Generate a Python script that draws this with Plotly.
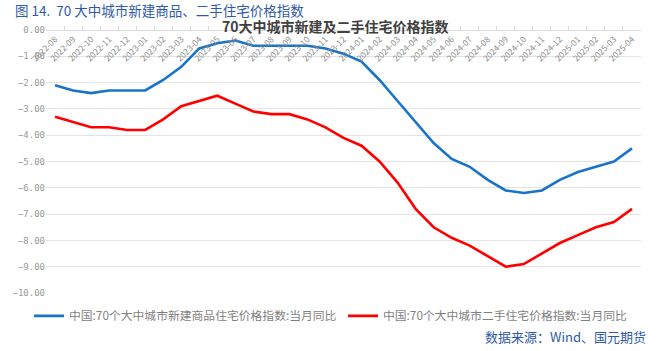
import plotly.graph_objects as go

months = ["2022-08", "2022-09", "2022-10", "2022-11", "2022-12",
          "2023-01", "2023-02", "2023-03", "2023-04", "2023-05", "2023-06",
          "2023-07", "2023-08", "2023-09", "2023-10", "2023-11", "2023-12",
          "2024-01", "2024-02", "2024-03", "2024-04", "2024-05", "2024-06",
          "2024-07", "2024-08", "2024-09", "2024-10", "2024-11", "2024-12",
          "2025-01", "2025-02", "2025-03", "2025-04"]

new_home = [-2.1, -2.3, -2.4, -2.3, -2.3, -2.3, -1.9, -1.4, -0.7, -0.5, -0.4,
            -0.6, -0.6, -0.6, -0.6, -0.7, -0.9, -1.2, -1.9, -2.7, -3.5, -4.3,
            -4.9, -5.2, -5.7, -6.1, -6.2, -6.1, -5.7, -5.4, -5.2, -5.0, -4.5]

second_hand = [-3.3, -3.5, -3.7, -3.7, -3.8, -3.8, -3.4, -2.9, -2.7, -2.5, -2.8,
               -3.1, -3.2, -3.2, -3.4, -3.7, -4.1, -4.4, -5.0, -5.8, -6.8, -7.5,
               -7.9, -8.2, -8.6, -9.0, -8.9, -8.5, -8.1, -7.8, -7.5, -7.3, -6.8]

y_ticks = [0, -1, -2, -3, -4, -5, -6, -7, -8, -9, -10]

CJK = "Noto Sans CJK SC"

fig = go.Figure()
fig.add_trace(go.Scatter(x=months, y=new_home, mode="lines",
                         name="中国:70个大中城市新建商品住宅价格指数:当月同比",
                         line=dict(color="#1874C8", width=2.6)))
fig.add_trace(go.Scatter(x=months, y=second_hand, mode="lines",
                         name="中国:70个大中城市二手住宅价格指数:当月同比",
                         line=dict(color="#FF0000", width=2.6)))

fig.update_layout(
    width=657, height=351,
    margin=dict(l=38, r=16, t=30, b=58),
    paper_bgcolor="white", plot_bgcolor="white",
    font=dict(family=CJK, color="#808080"),
    showlegend=True,
    legend=dict(orientation="h", x=-0.015, xanchor="left", y=-0.087, yanchor="middle",
                font=dict(size=11.8, color="#7f7f7f", family=CJK),
                itemwidth=30, entrywidth=269, entrywidthmode="pixels",
                bgcolor="rgba(0,0,0,0)"),
    xaxis=dict(type="category", range=[-0.5, len(months) - 0.5],
               anchor="free", position=1, side="bottom",
               showline=True, linecolor="#d9d9d9", linewidth=1,
               showgrid=False, ticks="inside", ticklen=4, tickcolor="#d9d9d9",
               tickson="boundaries", tickangle=-45,
               tickfont=dict(size=8.5, color="#8c8c8c", family=CJK),
               zeroline=False),
    yaxis=dict(range=[-10, 0], tickvals=y_ticks, tickformat=".2f",
               showgrid=True, gridcolor="#e3e3e3", gridwidth=1,
               zeroline=False, showline=False, ticks="",
               tickfont=dict(size=9, color="#999999", family="DejaVu Sans Mono")),
)

fig.add_annotation(text="图 14.  70 大中城市新建商品、二手住宅价格指数",
                   xref="paper", yref="paper", x=-0.0547, y=1.076,
                   xanchor="left", yanchor="middle", showarrow=False,
                   font=dict(size=13.5, color="#2E5AA8", family=CJK))
fig.add_annotation(text="<b>70大中城市新建及二手住宅价格指数</b>",
                   xref="paper", yref="paper", x=0.486, y=1.014,
                   xanchor="center", yanchor="middle", showarrow=False,
                   font=dict(size=14, color="#404040", family=CJK))
fig.add_annotation(text="数据来源：Wind、国元期货",
                   xref="paper", yref="paper", x=1.0116, y=-0.167,
                   xanchor="right", yanchor="middle", showarrow=False,
                   font=dict(size=13, color="#2E5AA8", family=CJK))

fig.write_html("out.html")
